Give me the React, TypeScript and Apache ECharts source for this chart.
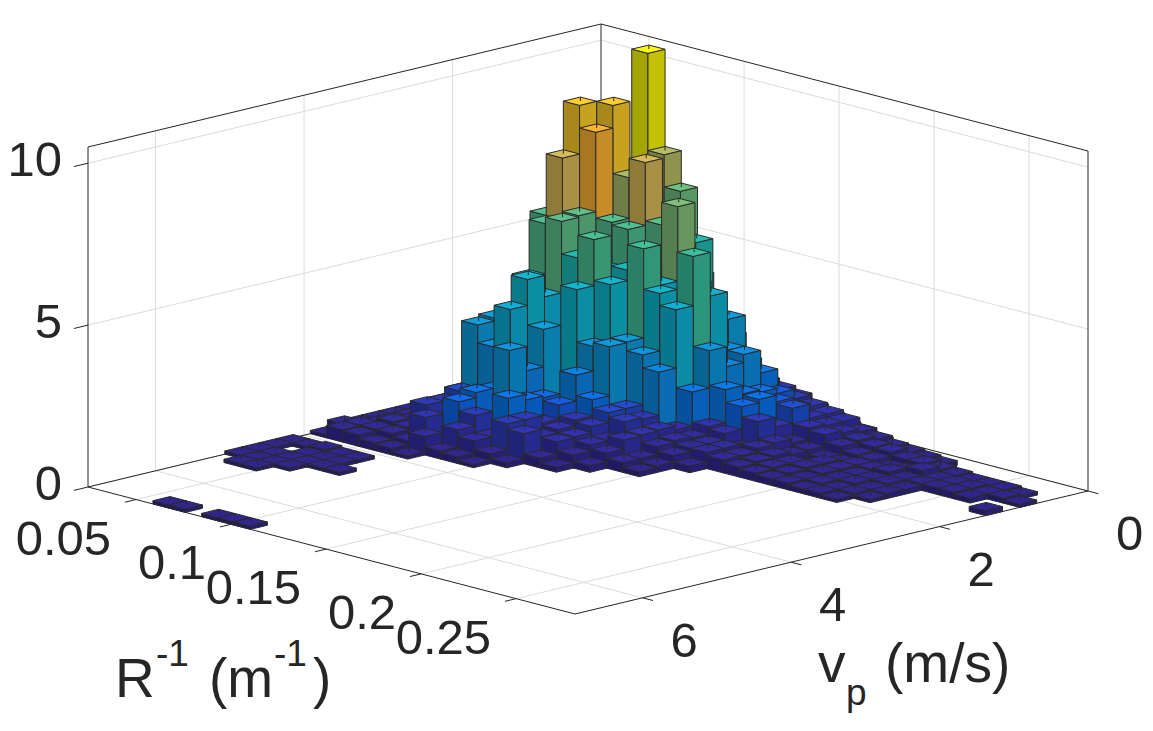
import React, { useEffect, useRef } from "react";
import * as echarts from "echarts";

// Bin counts, one row per v_p bin (back to front), one column per 1/R bin.
const HEIGHTS: number[][] = [
  [.3,.5,1,1.5,2,2,1.8,1.5,1.5,1.2,1,.9,.8,.6,.45,.3,.25,.1],
  [.3,.5,1.5,3,10.5,7.5,6.5,4,2.5,2.4,1.5,1.2,1,1,.9,.8,.7,.5,.4,.3,.25,.2,.15],
  [.3,.8,2,3,4.5,5,5,4,5.3,3,3.2,2,1.8,1.3,1,.8,.7,.6,.5,.43,.4,.3,.3,.25,.2,.15,.15,.15,.1],
  [.3,1,2.5,4,6,5.5,5.5,4.5,4.5,3.5,3,2.5,2.5,1.46,1.3,1.23,.75,.67,.44,.31,.28,.16,.2,.35,.2,.2,.2,.15,.15,.1],
  [.4,1.5,3,5,7,9.4,7.3,7.9,6.1,6.8,4.5,4.3,2.25,1.54,1.5,.78,.41,.33,.2,.2,.25,.25,.3,.2,.2,.2,.2,.15],
  [.4,1.5,4.5,6,9.4,8.7,6.05,5.96,5,4.5,4,5.65,2.87,1.8,1.4,1.07,.54,.3,.12,.3,.25,.2,.2,.2,.15,0,0,0,0,.15],
  [.4,2.5,3.5,6,7.9,6.25,5,4.8,4.96,5.75,4.5,4.13,1.72,.78,.7,.37,.5,.4,.3,.3,.25,.2,.2,.15,.15],
  [.3,2,2.8,4,6,6.2,5.2,5.9,4.64,3,2.73,2.33,.68,.55,.5,.5,.4,.35,.3,.25,.2,.2,.15,.15,.1],
  [.3,1,2.2,3,4.45,4,2.58,4.48,2.86,2.98,1.2,1,.8,.6,.5,.5,.4,.3,.25,.2,.2,.15,.15,.1],
  [.2,.7,2.5,3.2,3,4.66,3.25,1.1,2.1,1.47,1.2,1.05,.77,.54,.4,.2],
  [.2,.5,.9,3.12,2.57,3.86,2.1,1.39,1.3,.97,.9,.6,.74,.3,.2],
  [.2,.3,.7,1.2,1.3,1.5,2.85,1.45,.87,.8,.71,.59,.46,.3,.15],
  [.2,.3,.5,1,.9,1.55,.83,1.63,1.1,.7,.68,.4,.2],
  [.2,.3,.4,1.03,.7,1.39,1.1,.57,1.1,.93,.3,.15],
  [.2,.3,.5,.45,.9,.16,.78,.57,.3,.15],
  [.3,.4,.4,.4,.3,.57,.25,.2,.1],
  [.1,.38,.35,.23,.2,.1],
  [],
  [.1,.1,.15,.1,.1],
  [.1,0,.1,.1,.1],
  [.1,.1,.1,.1,.1,.1],
  [.1,.1,.1,.1],
  [0,.1,.1],
  [],[],[],[],[],[],
  [0,0,0,0,.1,.1,0,.1,.1,.1],
];

const R_TICKS = [0.05, 0.1, 0.15, 0.2, 0.25];
const R_LABELS = ["0.05", "0.1", "0.15", "0.2", "0.25"];
const V_TICKS = [0, 2, 4, 6];
const V_LABELS = ["0", "2", "4", "6"];
const Z_TICKS = [0, 5, 10];
const Z_LABELS = ["0", "5", "10"];

const R_MIN = 0.0247;
const R_MAX = 0.281;
const V_MAX = 6.91;
const Z_MAX = 10.5;
const BINS = 30;

// parula, as rendered on the bar tops: [level 0..1, r, g, b]
const PARULA = [
  [0, 48, 36, 140],
  [0.03, 50, 40, 150],
  [0.07, 50, 48, 175],
  [0.105, 45, 60, 190],
  [0.125, 20, 95, 235],
  [0.14, 8, 115, 240],
  [0.25, 12, 145, 225],
  [0.38, 12, 178, 215],
  [0.45, 15, 185, 205],
  [0.5, 30, 190, 180],
  [0.55, 65, 192, 150],
  [0.6, 100, 192, 135],
  [0.65, 130, 192, 120],
  [0.7, 170, 190, 105],
  [0.76, 222, 186, 85],
  [0.83, 255, 180, 50],
  [0.9, 255, 208, 40],
  [1, 250, 248, 8],
];

function shade(z: number, k: number) {
  const t = Math.min(1, z / Z_MAX);
  let n = 1;
  while (n < PARULA.length - 1 && PARULA[n][0] < t) n++;
  const a = PARULA[n - 1];
  const b = PARULA[n];
  const f = (t - a[0]) / (b[0] - a[0]);
  const c = [1, 2, 3].map((q) => Math.round((a[q] + (b[q] - a[q]) * f) * k));
  return `rgb(${c[0]},${c[1]},${c[2]})`;
}

// Orthographic view of the box: floor corner at the back, then the two floor edge vectors.
function project(r: number, v: number, z: number): [number, number] {
  const rn = (r - R_MIN) / (R_MAX - R_MIN);
  const vn = v / V_MAX;
  return [601 + 487 * rn - 513 * vn, 364 + 127 * rn + 123 * vn - (340 / Z_MAX) * z];
}

const binR = (i: number) => R_MIN + ((R_MAX - R_MIN) * i) / BINS;
const binV = (j: number) => (V_MAX * j) / BINS;

const barData: number[][] = [];
HEIGHTS.forEach((row, j) => row.forEach((z, i) => { if (z > 0) barData.push([i, j, z]); }));
barData.sort((p, q) => p[0] + p[1] - (q[0] + q[1]));

const DARK = "#262626";
const GRID = "#dcdcdc";
const EDGE = "#2a2a2a";

function renderBar(_: any, api: any) {
  const i = api.value(0), j = api.value(1), z = api.value(2);
  const c = (a: number, b: number, h: number) => api.coord(project(binR(a), binV(b), h));
  const back = c(i, j, z), right = c(i + 1, j, z), front = c(i + 1, j + 1, z), left = c(i, j + 1, z);
  const rb = c(i + 1, j, 0), fb = c(i + 1, j + 1, 0), lb = c(i, j + 1, 0);
  const line = { stroke: EDGE, lineWidth: 1 };
  return {
    type: "group",
    children: [
      { type: "polygon", shape: { points: [left, front, fb, lb] }, style: { fill: shade(z, 0.66), ...line } },
      { type: "polygon", shape: { points: [front, right, rb, fb] }, style: { fill: shade(z, 0.78), ...line } },
      { type: "polygon", shape: { points: [back, right, front, left] }, style: { fill: shade(z, 1), ...line } },
      { type: "line", shape: { x1: back[0], y1: back[1], x2: back[0], y2: back[1] + 4 }, style: { stroke: EDGE, lineWidth: 1 } },
    ],
  };
}

function renderBox(_: any, api: any) {
  const p = (r: number, v: number, z: number) => api.coord(project(r, v, z));
  const seg = (a: number[], b: number[], stroke: string) => ({
    type: "line",
    shape: { x1: a[0], y1: a[1], x2: b[0], y2: b[1] },
    style: { stroke, lineWidth: 1 },
  });
  const ch: any[] = [];
  R_TICKS.forEach((r) => {
    ch.push(seg(p(r, 0, 0), p(r, 0, Z_MAX), GRID));
    ch.push(seg(p(r, 0, 0), p(r, V_MAX, 0), GRID));
  });
  V_TICKS.forEach((v) => {
    if (v === 0) return;
    ch.push(seg(p(R_MIN, v, 0), p(R_MIN, v, Z_MAX), GRID));
    ch.push(seg(p(R_MIN, v, 0), p(R_MAX, v, 0), GRID));
  });
  Z_TICKS.forEach((z) => {
    ch.push(seg(p(R_MIN, V_MAX, z), p(R_MIN, 0, z), GRID));
    ch.push(seg(p(R_MIN, 0, z), p(R_MAX, 0, z), GRID));
  });
  const LB = p(R_MIN, V_MAX, 0), F = p(R_MAX, V_MAX, 0), RB = p(R_MAX, 0, 0), B = p(R_MIN, 0, 0);
  const LT = p(R_MIN, V_MAX, Z_MAX), RT = p(R_MAX, 0, Z_MAX), BT = p(R_MIN, 0, Z_MAX);
  [[LB, F], [F, RB], [LB, B], [B, RB], [LT, BT], [BT, RT], [LB, LT], [B, BT], [RB, RT]].forEach(([a, b]) => ch.push(seg(a, b, DARK)));
  R_TICKS.forEach((r) => ch.push(seg(p(r, V_MAX, 0), p(r, V_MAX + 0.15, 0), DARK)));
  V_TICKS.forEach((v) => ch.push(seg(p(R_MAX, v, 0), p(R_MAX + 0.0055, v, 0), DARK)));
  Z_TICKS.forEach((z) => ch.push(seg(p(R_MIN, V_MAX, z), p(R_MIN, V_MAX + 0.19, z), DARK)));
  return { type: "group", children: ch };
}

const FONT = "'Liberation Sans', Arial, sans-serif";

function renderTexts(_: any, api: any) {
  const p = (r: number, v: number, z: number) => api.coord(project(r, v, z));
  const txt = (text: string, x: number, y: number, align: string, size = 49) => ({
    type: "text",
    x,
    y,
    style: { text, x: 0, y: 0, fill: DARK, fontFamily: FONT, fontSize: size, textAlign: align, textVerticalAlign: "middle" },
  });
  const at = (text: string, x: number, y: number, size: number) => {
    const q = api.coord([x, y]);
    return txt(text, q[0], q[1], "left", size);
  };
  const ch: any[] = [];
  Z_TICKS.forEach((z, k) => { const q = p(R_MIN, V_MAX, z); ch.push(txt(Z_LABELS[k], q[0] - 26, q[1] - 4, "right")); });
  R_TICKS.forEach((r, k) => { const q = p(r, V_MAX, 0); ch.push(txt(R_LABELS[k], q[0] - 25, q[1] + 38, "right")); });
  V_TICKS.forEach((v, k) => { const q = p(R_MAX, v, 0); ch.push(txt(V_LABELS[k], q[0] + 28, q[1] + 42, "left")); });
  ch.push(at("R", 115, 678, 55));
  ch.push(at("-1", 156, 653, 37));
  ch.push(at("(m", 209, 678, 55));
  ch.push(at("-1", 274, 653, 37));
  ch.push(at(")", 313, 678, 55));
  ch.push(at("v", 818, 663, 55));
  ch.push(at("p", 846, 692, 37));
  ch.push(at("(m/s)", 885, 663, 55));
  return { type: "group", children: ch };
}

export default function App() {
  const ref = useRef<HTMLDivElement>(null);
  useEffect(() => {
    const chart = echarts.init(ref.current!, undefined, { renderer: "svg" });
    chart.setOption({
      animation: false,
      backgroundColor: "#fff",
      grid: { left: 0, right: 0, top: 0, bottom: 0 },
      xAxis: { type: "value", min: 0, max: 1153, show: false },
      yAxis: { type: "value", min: 0, max: 731, inverse: true, show: false },
      series: [
        { type: "custom", silent: true, clip: false, data: [[0, 0]], renderItem: renderBox, z: 1 },
        { type: "custom", silent: true, clip: false, data: barData, encode: { x: 0, y: 1 }, renderItem: renderBar, z: 2 },
        { type: "custom", silent: true, clip: false, data: [[0, 0]], renderItem: renderTexts, z: 3 },
      ],
    });
    return () => chart.dispose();
  }, []);
  return <div ref={ref} style={{ position: "absolute", left: 0, top: 0, width: 1153, height: 731 }} />;
}
